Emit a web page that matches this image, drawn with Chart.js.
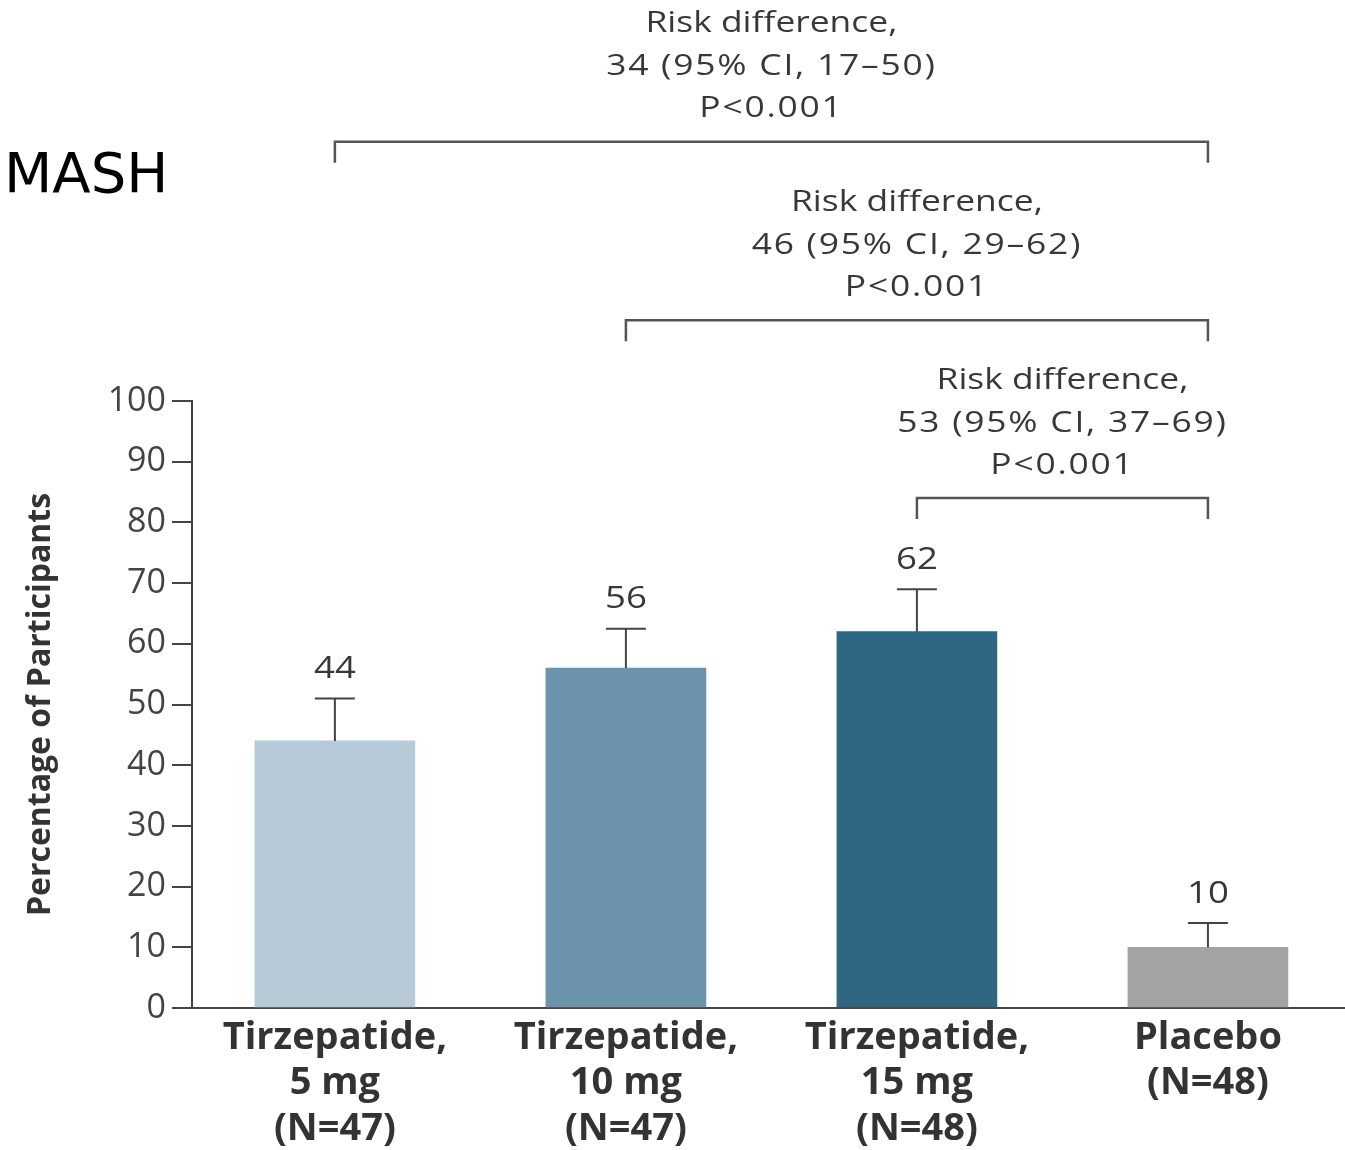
<!DOCTYPE html>
<html>
<head>
<meta charset="utf-8">
<script src="https://cdn.jsdelivr.net/npm/chart.js@4.4.1/dist/chart.umd.min.js"></script>
<style>
  html, body { margin: 0; padding: 0; background: #ffffff; }
  #wrap { width: 1345px; height: 1150px; position: relative; }
  canvas { display: block; }
</style>
</head>
<body>
<div id="wrap"><canvas id="chart" width="1345" height="1150"></canvas></div>
<script>
// Treatment groups (multi-line category labels)
const categories = [
  ['Tirzepatide,', '5 mg', '(N=47)'],
  ['Tirzepatide,', '10 mg', '(N=47)'],
  ['Tirzepatide,', '15 mg', '(N=48)'],
  ['Placebo', '(N=48)']
];
// Percentage of participants with resolution of MASH
const responders = [44, 56, 62, 10];
// Upper end of the 95% confidence interval for each group
const upperCI = [51, 62.5, 69, 14];
const yTicks = [0, 10, 20, 30, 40, 50, 60, 70, 80, 90, 100];

// Pairwise comparisons against placebo
const compareFrom = [0, 1, 2];
const compareTo = [3, 3, 3];
const riskDiff = [34, 46, 53];
const riskLow = [17, 29, 37];
const riskHigh = [50, 62, 69];
const pValueText = ['P<0.001', 'P<0.001', 'P<0.001'];

const barColors = ['#b7cad8', '#6b93ab', '#2f6681', '#a3a3a3'];
const inkColor = '#444444';
const textColor = '#383838';

function wideText(ctx, text, x, y, sx) {
  ctx.save();
  ctx.translate(x, y);
  ctx.scale(sx, 1);
  ctx.fillText(text, 0, 0);
  ctx.restore();
}

const overlay = {
  id: 'overlay',
  afterDatasetsDraw(chart, args, opts) {
    const { ctx } = chart;
    const y = chart.scales.y;
    const bars = chart.getDatasetMeta(0).data;
    ctx.save();

    // error bars and value labels
    ctx.strokeStyle = inkColor;
    ctx.lineWidth = 2;
    ctx.fillStyle = textColor;
    ctx.textAlign = 'center';
    ctx.textBaseline = 'middle';
    ctx.font = '31px "Open Sans"';
    bars.forEach((bar, i) => {
      const top = y.getPixelForValue(responders[i]);
      const hi = y.getPixelForValue(upperCI[i]);
      ctx.beginPath();
      ctx.moveTo(bar.x, top);
      ctx.lineTo(bar.x, hi);
      ctx.moveTo(bar.x - opts.capHalf, hi);
      ctx.lineTo(bar.x + opts.capHalf, hi);
      ctx.stroke();
      wideText(ctx, String(responders[i]), bar.x, hi - opts.valueGap, opts.stretch);
    });

    // comparison brackets with risk-difference annotations
    ctx.strokeStyle = '#555555';
    ctx.lineWidth = 2.5;
    ctx.font = '30px "Open Sans"';
    compareFrom.forEach((from, k) => {
      const x1 = bars[from].x;
      const x2 = bars[compareTo[k]].x;
      const yb = y.getPixelForValue(opts.levels[k]);
      ctx.beginPath();
      ctx.moveTo(x1, yb + opts.drop);
      ctx.lineTo(x1, yb);
      ctx.lineTo(x2, yb);
      ctx.lineTo(x2, yb + opts.drop);
      ctx.stroke();
      const cx = (x1 + x2) / 2;
      const lines = [
        'Risk difference,',
        riskDiff[k] + ' (95% CI, ' + riskLow[k] + '\u2013' + riskHigh[k] + ')',
        pValueText[k]
      ];
      lines.forEach((t, j) => {
        ctx.letterSpacing = j === 0 ? '0px' : '1.5px';
        wideText(ctx, t, cx, yb - opts.textOffsets[j], opts.stretch);
      });
      ctx.letterSpacing = '0px';
    });

    // panel heading
    ctx.fillStyle = '#000000';
    ctx.textAlign = 'left';
    ctx.textBaseline = 'alphabetic';
    ctx.font = '56px "DejaVu Sans"';
    ctx.fillText('MASH', 4, 192);
    ctx.restore();
  }
};

new Chart(document.getElementById('chart'), {
  type: 'bar',
  data: {
    datasets: [{
      data: responders.map((v, i) => ({ x: i, y: v })),
      backgroundColor: barColors,
      borderWidth: 0,
      barThickness: 160
    }]
  },
  options: {
    responsive: false,
    animation: false,
    events: [],
    layout: { padding: { top: 401, left: 0, right: 0, bottom: 0 } },
    plugins: {
      legend: { display: false },
      tooltip: { enabled: false },
      overlay: {
        capHalf: 20,
        valueGap: 29,
        stretch: 1.18,
        levels: [142.7, 113.3, 84.0],
        drop: 21,
        textOffsets: [118, 75, 33]
      }
    },
    scales: {
      x: {
        type: 'linear',
        min: -0.491,
        max: 3.471,
        offset: false,
        grid: { display: false, drawTicks: false },
        border: { display: true, color: inkColor, width: 2 },
        afterBuildTicks: (s) => { s.ticks = categories.map((_, i) => ({ value: i })); },
        afterFit: (s) => { s.height = 142; },
        ticks: {
          autoSkip: false,
          maxRotation: 0,
          padding: 7,
          color: '#333333',
          font: { family: 'Open Sans', size: 38, weight: 'bold', lineHeight: 1.2 },
          callback: (v) => categories[v] || ''
        }
      },
      y: {
        min: 0,
        max: 100,
        afterBuildTicks: (s) => { s.ticks = yTicks.map((v) => ({ value: v })); },
        afterFit: (s) => { s.width = 192; },
        grid: { drawOnChartArea: false, drawTicks: true, tickLength: 20, color: inkColor, lineWidth: 2 },
        border: { display: true, color: inkColor, width: 2 },
        ticks: {
          padding: 6,
          color: '#444444',
          font: { family: 'Open Sans', size: 34 }
        },
        title: {
          display: true,
          text: 'Percentage of Participants',
          color: '#333333',
          font: { family: 'Open Sans', size: 32, weight: 'bold' },
          padding: { top: 22, bottom: 0 }
        }
      }
    }
  },
  plugins: [overlay]
});
</script>
</body>
</html>
